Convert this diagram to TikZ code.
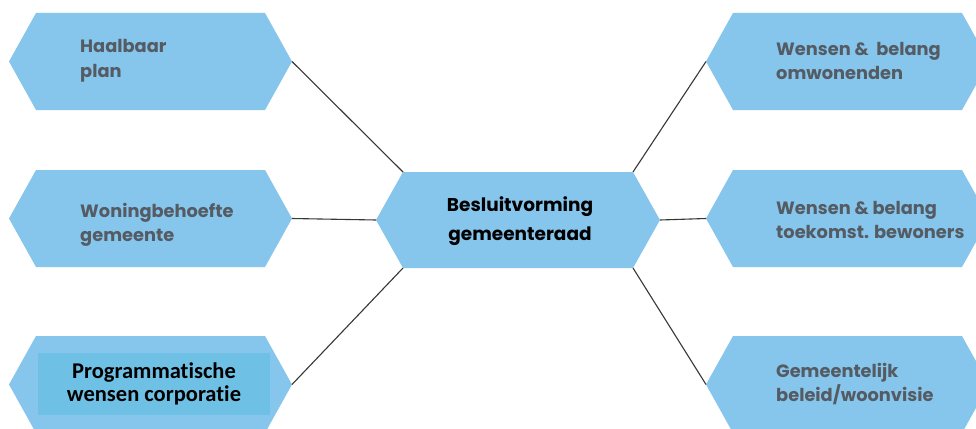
\documentclass[tikz,border=0pt]{standalone}
\usepackage{fontspec}
\setmainfont{Poppins}
\newfontfamily\calfont[Ligatures=NoCommon]{Carlito}
\definecolor{hexblue}{RGB}{134,197,236}
\definecolor{rectblue}{RGB}{110,192,228}
\definecolor{txtgray}{RGB}{84,91,99}
\definecolor{linegray}{RGB}{55,55,55}
\tikzset{
  hexfill/.style={fill=hexblue},
  conn/.style={draw=linegray, line width=1.1pt},
  lbl/.style={text=txtgray, align=left, anchor=west, inner sep=0pt,
    font=\bfseries\fontsize{17.8}{24.5}\selectfont},
  ctrlbl/.style={text=black, align=center, inner sep=0pt,
    font=\bfseries\fontsize{18.5}{29}\selectfont},
  callbl/.style={fill=rectblue, text=black, align=center, inner sep=0pt,
    minimum width=232pt, minimum height=62pt,
    font=\calfont\bfseries\fontsize{22.5}{23}\selectfont}
}
\newcommand\hexshape[5]{%
  \fill[hexfill] (#2,#3+#5/2) coordinate (#1-w) -- (#2+27,#3) coordinate (#1-nw)
   -- (#2+#4-27,#3) coordinate (#1-ne) -- (#2+#4,#3+#5/2) coordinate (#1-e)
   -- (#2+#4-27,#3+#5) coordinate (#1-se) -- (#2+27,#3+#5) coordinate (#1-sw) -- cycle;}
\begin{document}
\begin{tikzpicture}[x=1pt,y=-1pt]
\useasboundingbox (0,0) rectangle (976,428);
\fill[white] (0,0) rectangle (976,428);
\hexshape{A}{9}{13}{283}{97}
\hexshape{B}{9}{170}{283}{97}
\hexshape{C}{9}{336}{283}{97}
\hexshape{M}{376}{172}{284}{96}
\hexshape{D}{706}{13}{283}{97}
\hexshape{E}{706}{170}{283}{97}
\hexshape{F}{706}{336}{283}{97}
\draw[conn] (A-e) -- (M-nw);
\draw[conn] (B-e) -- (M-w);
\draw[conn] (C-e) -- (M-sw);
\draw[conn] (M-ne) -- (D-w);
\draw[conn] (M-e) -- (E-w);
\draw[conn] (M-se) -- (F-w);
\node[lbl] (tA) at (80,61) {Haalbaar\\plan};
\node[lbl] (tB) at (80,225) {Woningbehoefte\\gemeente};
\node[callbl] (tC) at (154,384) {Programmatische\\wensen corporatie};
\node[ctrlbl] (tM) at (520,221) {Besluitvorming\\gemeenteraad};
\node[lbl] (tD) at (776,61) {Wensen \&\ \ belang\\omwonenden};
\node[lbl] (tE) at (776,220) {Wensen \& belang\\toekomst. bewoners};
\node[lbl] (tF) at (776,384) {Gemeentelijk\\beleid/woonvisie};
\end{tikzpicture}
\end{document}
